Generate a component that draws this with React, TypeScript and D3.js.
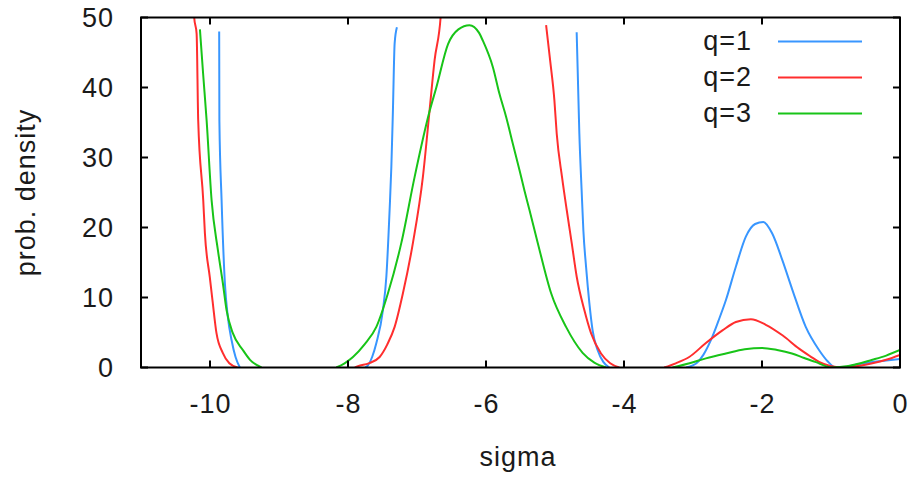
import React from "react";
import * as d3 from "d3";

// ---- data (null marks a break in the curve) ----
const xTicks = [-10, -8, -6, -4, -2, 0];
const yTicks = [0, 10, 20, 30, 40, 50];
const seriesNames = ["q=1", "q=2", "q=3"];
const seriesColors = ["#3896ff", "#ff2e2e", "#18c418"];

const q1Sigma = [
  -9.867, -9.864, -9.832, -9.784, -9.741, -9.687, -9.63, -9.567, null,
  -7.75, -7.711, -7.65, -7.589, -7.494, -7.444, -7.397, -7.372, -7.349, -7.324, -7.291, null,
  -4.686, -4.671, -4.647, -4.614, -4.589, -4.55, -4.502, -4.455, -4.383, -4.3, -4.213, null,
  -3.1, -2.95, -2.85, -2.741, -2.63, -2.524, -2.379, -2.234, -2.1, -1.98, -1.85, -1.704, -1.56, -1.366, -1.174, -1.05, -0.932, -0.85, -0.64, -0.4, -0.2, 0,
];
const q1Density = [
  48, 35.3, 23.9, 12.0, 7.2, 3.9, 1.5, 0, null,
  0, 0.3, 1.5, 3.5, 8.2, 13.0, 22.5, 28.6, 36.7, 46.3, 48.6, null,
  47.9, 42.4, 33.4, 25.3, 19.6, 14.4, 9.2, 5.3, 2.5, 0.8, 0, null,
  0, 0.6, 1.8, 3.9, 6.7, 9.6, 14.4, 18.7, 20.5, 20.8, 19.1, 15.3, 11.1, 5.8, 2.5, 0.9, 0, 0, 0.4, 0.8, 1.0, 1.2,
];

const q2Sigma = [
  -10.26, -10.229, -10.194, -10.171, -10.098, -10.074, -10.003, -9.964, -9.906, -9.815, -9.72, -9.6, null,
  -7.9, -7.855, -7.7, -7.541, -7.43, -7.324, -7.204, -7.059, -6.915, -6.818, -6.745, -6.658, -6.62, null,
  -5.129, -5.071, -5.009, -4.975, -4.898, -4.83, -4.758, -4.686, -4.575, -4.478, -4.333, -4.2, -4.068, null,
  -3.417, -3.25, -3.055, -2.813, -2.573, -2.379, -2.162, -1.945, -1.704, -1.463, -1.3, -1.174, -1.0, -0.884, -0.7, -0.4, -0.2, 0,
];
const q2Density = [
  56, 50, 47.7, 35.3, 23.9, 19.2, 12.9, 9.6, 4.9, 2.1, 0.6, 0, null,
  0, 0.2, 0.6, 1.5, 3.3, 5.8, 10.6, 17.8, 27.2, 36.7, 43.9, 50, 56, null,
  48.9, 43.9, 38.2, 33.4, 27.2, 22.5, 17.8, 13.0, 8.2, 4.9, 2.0, 0.6, 0, null,
  0, 0.6, 1.5, 3.5, 5.3, 6.5, 6.9, 6.1, 4.6, 2.7, 1.6, 0.8, 0.2, 0, 0.1, 0.6, 1.1, 1.8,
];

const q3Sigma = [
  -10.146, -10.1, -10.049, -9.977, -9.886, -9.813, -9.76, -9.669, -9.524, -9.42, -9.253, null,
  -8.17, -8.05, -7.928, -7.76, -7.589, -7.421, -7.227, -7.035, -6.818, -6.72, -6.55, -6.4, -6.239, -6.1, -6.046, -5.9, -5.805, -5.708, -5.612, -5.515, -5.443, -5.37, -5.25, -5.056, -4.84, -4.6, -4.43, -4.26, null,
  -3.297, -3.05, -2.813, -2.524, -2.25, -2.0, -1.78, -1.566, -1.4, -1.23, -0.98, -0.75, -0.4, -0.2, 0,
];
const q3Density = [
  48.3, 42, 35.3, 23.9, 16.8, 12.0, 8.2, 4.9, 2.5, 1.1, 0, null,
  0, 0.6, 1.5, 3.3, 5.8, 10.6, 17.8, 27.2, 36.6, 40, 46.2, 48.3, 48.9, 47.8, 46.7, 42.9, 39.1, 35.8, 32.0, 28.2, 25.3, 22.5, 17.8, 10.6, 5.8, 2.1, 0.7, 0, null,
  0, 0.6, 1.3, 2.0, 2.6, 2.8, 2.5, 2.0, 1.4, 0.8, 0, 0.2, 1.1, 1.7, 2.5,
];

const seriesSigma = [q1Sigma, q2Sigma, q3Sigma];
const seriesDensity = [q1Density, q2Density, q3Density];

// ---- layout ----
const W = 908;
const H = 479;
const left = 141;
const right = 900;
const top = 17.5;
const bottom = 367.5;
const FONT = "'Liberation Sans', Arial, Helvetica, sans-serif";
const FS = 27;
const LS = 1;

export default function App() {
  const x = d3.scaleLinear().domain([-11, 0]).range([left, right]);
  const y = d3.scaleLinear().domain([0, 50]).range([bottom, top]);

  const line = d3
    .line<[number | null, number | null]>()
    .defined((d) => d[0] !== null && d[1] !== null)
    .x((d) => x(d[0] as number))
    .y((d) => y(d[1] as number))
    .curve(d3.curveMonotoneX);

  const paths = seriesSigma.map((xs, i) =>
    line(xs.map((v, j) => [v, seriesDensity[i][j]] as [number | null, number | null]))
  );

  const tickLen = 7;

  return (
    <svg
      width={W}
      height={H}
      style={{ position: "absolute", left: 0, top: 0, background: "#fff" }}
      fontFamily={FONT}
      letterSpacing={LS}
    >
      <defs>
        <clipPath id="plotClip">
          <rect x={left} y={top} width={right - left} height={bottom - top} />
        </clipPath>
      </defs>
      <rect x={0} y={0} width={W} height={H} fill="#fff" />

      {/* curves */}
      <g clipPath="url(#plotClip)">
        {paths.map((p, i) => (
          <path key={i} d={p || ""} fill="none" stroke={seriesColors[i]} strokeWidth={2} strokeLinejoin="round" />
        ))}
      </g>

      {/* frame */}
      <rect x={left} y={top} width={right - left} height={bottom - top} fill="none" stroke="#000" strokeWidth={2} />

      {/* x ticks */}
      {xTicks.map((t) => (
        <g key={"x" + t}>
          <line x1={x(t)} x2={x(t)} y1={bottom} y2={bottom - tickLen} stroke="#000" strokeWidth={2} />
          <line x1={x(t)} x2={x(t)} y1={top} y2={top + tickLen} stroke="#000" strokeWidth={2} />
          <text x={x(t) + LS / 2} y={413} textAnchor="middle" fontSize={FS} fill="#1a1a1a">
            {t}
          </text>
        </g>
      ))}

      {/* y ticks */}
      {yTicks.map((t) => (
        <g key={"y" + t}>
          <line x1={left} x2={left + tickLen} y1={y(t)} y2={y(t)} stroke="#000" strokeWidth={2} />
          <line x1={right} x2={right - tickLen} y1={y(t)} y2={y(t)} stroke="#000" strokeWidth={2} />
          <text x={113 + LS} y={y(t) + 9.5} textAnchor="end" fontSize={FS} fill="#1a1a1a">
            {t}
          </text>
        </g>
      ))}

      {/* axis labels */}
      <text x={518} y={466} textAnchor="middle" fontSize={FS} fill="#1a1a1a">
        sigma
      </text>
      <text
        transform={`translate(35, ${(top + bottom) / 2}) rotate(-90)`}
        textAnchor="middle"
        fontSize={FS}
        fill="#1a1a1a"
      >
        prob. density
      </text>

      {/* legend */}
      {seriesNames.map((n, i) => (
        <g key={n}>
          <text x={751 + LS} y={50 + i * 36} textAnchor="end" fontSize={FS} fill="#1a1a1a">
            {n}
          </text>
          <line x1={778} x2={862} y1={41.5 + i * 36} y2={41.5 + i * 36} stroke={seriesColors[i]} strokeWidth={2} />
        </g>
      ))}
    </svg>
  );
}
